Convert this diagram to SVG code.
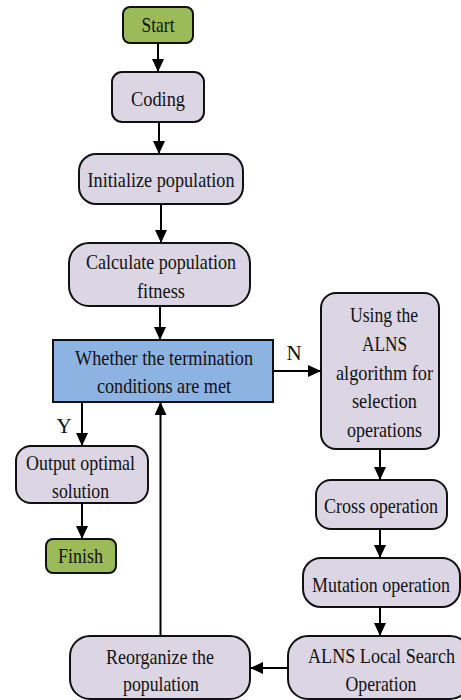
<svg xmlns="http://www.w3.org/2000/svg" width="461" height="700" viewBox="0 0 461 700">
<defs>
<marker id="ah" markerUnits="userSpaceOnUse" markerWidth="14" markerHeight="12" refX="13" refY="6" orient="auto">
<path d="M0,0 L13,6 L0,12 z" fill="#000"/>
</marker>
<style>
.box{fill:#dcd6e4;stroke:#111;stroke-width:2}
.term{fill:#9bbb59;stroke:#111;stroke-width:2}
.dec{fill:#8db3e2;stroke:#111;stroke-width:2}
text{font-family:"Liberation Serif","Times New Roman",serif;font-size:21px;fill:#111;text-anchor:middle}
.c line{stroke:#000;stroke-width:2;fill:none;marker-end:url(#ah)}
</style>
</defs>
<g id="start"><rect class="term" x="123" y="7" width="70" height="36" rx="7"/><text x="158" y="32" textLength="33" lengthAdjust="spacingAndGlyphs">Start</text></g>
<g id="coding"><rect class="box" x="112" y="72" width="92" height="50" rx="10"/><text x="158" y="106" textLength="54" lengthAdjust="spacingAndGlyphs">Coding</text></g>
<g id="init"><rect class="box" x="79" y="154" width="164" height="50" rx="17"/><text x="161" y="187" textLength="147" lengthAdjust="spacingAndGlyphs">Initialize population</text></g>
<g id="calc"><rect class="box" x="69" y="243" width="181" height="63" rx="20"/><text x="161" y="269" textLength="150" lengthAdjust="spacingAndGlyphs">Calculate population</text><text x="161" y="298" textLength="48" lengthAdjust="spacingAndGlyphs">fitness</text></g>
<g id="decision"><rect class="dec" x="53" y="340" width="220" height="62"/><text x="164" y="365" textLength="178" lengthAdjust="spacingAndGlyphs">Whether the termination</text><text x="164" y="393" textLength="134" lengthAdjust="spacingAndGlyphs">conditions are met</text></g>
<g id="select"><rect class="box" x="321" y="293" width="118" height="156" rx="15"/><text x="384" y="322" textLength="68" lengthAdjust="spacingAndGlyphs">Using the</text><text x="384.5" y="351" textLength="45" lengthAdjust="spacingAndGlyphs">ALNS</text><text x="384.5" y="380" textLength="97" lengthAdjust="spacingAndGlyphs">algorithm for</text><text x="384.5" y="408" textLength="65" lengthAdjust="spacingAndGlyphs">selection</text><text x="384.5" y="437" textLength="75" lengthAdjust="spacingAndGlyphs">operations</text></g>
<g id="output"><rect class="box" x="16" y="446" width="132" height="57" rx="15"/><text x="80.5" y="470" textLength="109" lengthAdjust="spacingAndGlyphs">Output optimal</text><text x="80.5" y="498" textLength="57" lengthAdjust="spacingAndGlyphs">solution</text></g>
<g id="finish"><rect class="term" x="46" y="539" width="70" height="34" rx="7"/><text x="80.5" y="563" textLength="45" lengthAdjust="spacingAndGlyphs">Finish</text></g>
<g id="cross"><rect class="box" x="316" y="480" width="131" height="49" rx="15"/><text x="381" y="513" textLength="114" lengthAdjust="spacingAndGlyphs">Cross operation</text></g>
<g id="mutation"><rect class="box" x="303" y="558" width="157" height="49" rx="18"/><text x="381" y="592" textLength="138" lengthAdjust="spacingAndGlyphs">Mutation operation</text></g>
<g id="alns"><rect class="box" x="288" y="636" width="182" height="63" rx="20"/><text x="381.5" y="663" textLength="147" lengthAdjust="spacingAndGlyphs">ALNS Local Search</text><text x="381" y="691" textLength="71" lengthAdjust="spacingAndGlyphs">Operation</text></g>
<g id="reorg"><rect class="box" x="70" y="636" width="180" height="63" rx="20"/><text x="160" y="664" textLength="108" lengthAdjust="spacingAndGlyphs">Reorganize the</text><text x="161" y="691" textLength="76" lengthAdjust="spacingAndGlyphs">population</text></g>
<g id="connectors" class="c">
<line x1="158" y1="43" x2="158" y2="72"/>
<line x1="159" y1="122" x2="159" y2="154"/>
<line x1="161" y1="204" x2="161" y2="243"/>
<line x1="160" y1="306" x2="160" y2="340"/>
<line x1="273" y1="371" x2="321" y2="371"/>
<line x1="82" y1="402" x2="82" y2="446"/>
<line x1="82" y1="503" x2="82" y2="539"/>
<line x1="380" y1="449" x2="380" y2="480"/>
<line x1="380" y1="529" x2="380" y2="558"/>
<line x1="380" y1="607" x2="380" y2="636"/>
<line x1="288" y1="668" x2="250" y2="668"/>
<line x1="160.5" y1="636" x2="160.5" y2="402"/>
</g>
<g id="labels"><text x="294" y="360">N</text><text x="64" y="433">Y</text></g>
</svg>
